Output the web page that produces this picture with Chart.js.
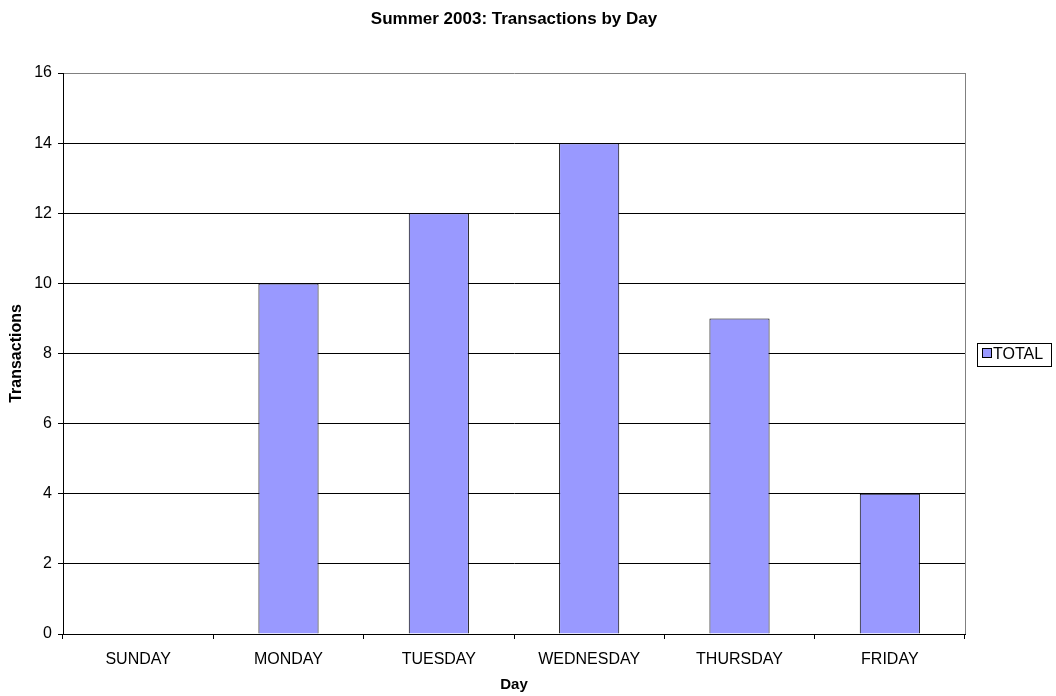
<!DOCTYPE html>
<html>
<head>
<meta charset="utf-8">
<script src="https://cdn.jsdelivr.net/npm/chart.js@4.4.1/dist/chart.umd.min.js"></script>
<style>
  html, body { margin: 0; padding: 0; background: #fff; }
  #wrap { width: 1056px; height: 696px; }
</style>
</head>
<body>
<div id="wrap"><canvas id="c" width="1056" height="696"></canvas></div>
<script>
const days = ['SUNDAY', 'MONDAY', 'TUESDAY', 'WEDNESDAY', 'THURSDAY', 'FRIDAY'];
const totals = [0, 10, 12, 14, 9, 4];
const seriesName = 'TOTAL';
const chartTitle = 'Summer 2003: Transactions by Day';
const FONT = '"Liberation Sans", Arial, sans-serif';

// title, right border and boxed legend, drawn after the chart
const decorations = {
  id: 'decorations',
  afterDraw(chart) {
    const ctx = chart.ctx;
    const area = chart.chartArea;
    ctx.save();

    ctx.fillStyle = '#000';
    ctx.font = 'bold 17px ' + FONT;
    ctx.textAlign = 'center';
    ctx.textBaseline = 'middle';
    ctx.fillText(chartTitle, (area.left + area.right) / 2, 19);

    // plot border on the right
    ctx.strokeStyle = '#808080';
    ctx.lineWidth = 1;
    ctx.beginPath();
    ctx.moveTo(Math.round(area.right) + 0.5, area.top);
    ctx.lineTo(Math.round(area.right) + 0.5, area.bottom);
    ctx.stroke();

    // legend
    ctx.strokeStyle = '#000';
    ctx.strokeRect(977.5, 343.5, 74, 23);
    ctx.fillStyle = '#9999ff';
    ctx.fillRect(982.5, 348.5, 9, 9);
    ctx.strokeRect(982.5, 348.5, 9, 9);
    ctx.fillStyle = '#000';
    ctx.font = '16px ' + FONT;
    ctx.textAlign = 'left';
    ctx.fillText(seriesName, 993, 355);
    ctx.restore();
  }
};

new Chart(document.getElementById('c'), {
  type: 'bar',
  data: {
    labels: days,
    datasets: [{
      label: seriesName,
      data: totals,
      backgroundColor: '#9999ff',
      borderColor: '#000',
      borderWidth: 1,
      categoryPercentage: 1,
      barPercentage: 0.4
    }]
  },
  options: {
    responsive: false,
    animation: false,
    layout: { padding: { top: 73, right: 91, left: 0, bottom: 0 } },
    plugins: {
      legend: { display: false },
      title: { display: false },
      tooltip: { enabled: false }
    },
    scales: {
      x: {
        afterFit(scale) { scale.height = 62; },
        grid: { offset: true, drawOnChartArea: false, tickLength: 5, color: '#000' },
        border: { display: true, color: '#000' },
        ticks: { color: '#000', font: { family: FONT, size: 16 }, padding: 11, maxRotation: 0 },
        title: { display: true, text: 'Day', color: '#000', font: { family: FONT, size: 15, weight: 'bold' }, padding: { top: 0, bottom: 2 } }
      },
      y: {
        min: 0,
        max: 16,
        afterFit(scale) { scale.width = 63; },
        grid: {
          color: (c) => (c.tick && c.tick.value === 16 ? '#808080' : '#000'),
          tickColor: '#000',
          tickLength: 5
        },
        border: { display: true, color: '#000' },
        ticks: { stepSize: 2, color: '#000', font: { family: FONT, size: 16 }, padding: 6 },
        title: { display: true, text: 'Transactions', color: '#000', font: { family: FONT, size: 16, weight: 'bold' }, padding: { top: 7, bottom: 0 } }
      }
    }
  },
  plugins: [decorations]
});
</script>
</body>
</html>
